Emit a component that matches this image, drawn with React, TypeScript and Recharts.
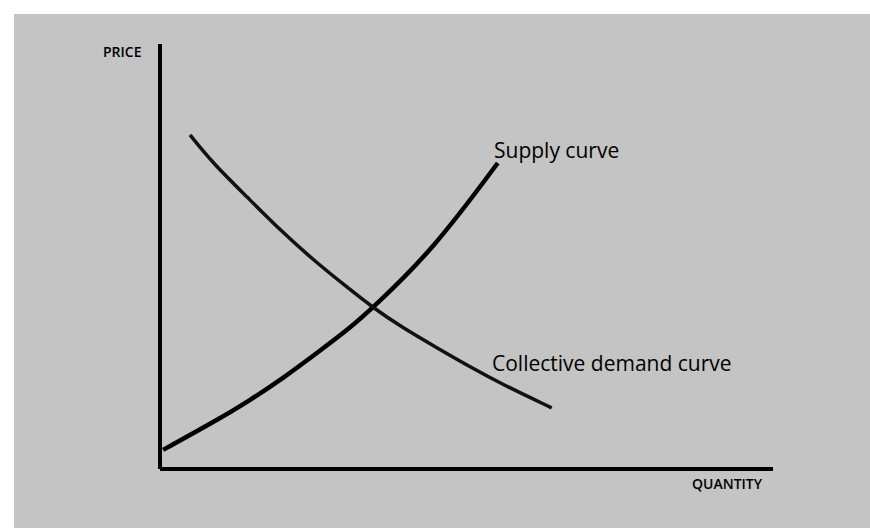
import React from 'react';
import { LineChart, Line, XAxis, YAxis, ReferenceLine } from 'recharts';

// Supply curve (quantity, price) in arbitrary units
const supplyQ = [0.5, 9.3, 14.7, 20.1, 25.6, 31.0, 34.7, 44.5, 55.1];
const supplyP = [4.5, 11.5, 16.2, 21.4, 27.3, 33.2, 37.9, 51.5, 72.0];
// Collective demand curve
const demandQ = [4.9, 8.6, 14.2, 19.6, 25.0, 30.5, 34.7, 39.6, 45.2, 50.6, 56.0, 63.9];
const demandP = [78.6, 72.0, 64.0, 56.2, 49.2, 42.8, 38.0, 33.2, 28.5, 24.0, 19.8, 14.4];

const axisTitles = { y: 'PRICE', x: 'QUANTITY' };
const curveLabels = { supply: 'Supply curve', demand: 'Collective demand curve' };

const supplyData = supplyQ.map((q, i) => ({ q, p: supplyP[i] }));
const demandData = demandQ.map((q, i) => ({ q, p: demandP[i] }));

const W = 870;
const H = 528;
const font = '"Open Sans", "Noto Sans", sans-serif';

export default function App() {
  return (
    <div style={{ position: 'absolute', left: 0, top: 0, width: W, height: H, background: '#ffffff', overflow: 'hidden' }}>
      <div style={{ position: 'absolute', left: 14, top: 14, width: W - 14, height: H - 14, background: '#c4c4c4' }} />
      <div style={{ position: 'absolute', left: 0, top: 0 }}>
        <LineChart width={W} height={H} margin={{ top: 44, right: 97, bottom: 59, left: 160 }}>
          <XAxis
            type="number"
            dataKey="q"
            domain={[0, 100]}
            allowDataOverflow
            tick={false}
            tickLine={false}
            axisLine={false}
            height={0}
          />
          <YAxis
            type="number"
            dataKey="p"
            domain={[0, 100]}
            allowDataOverflow
            tick={false}
            tickLine={false}
            axisLine={false}
            width={0}
          />
          <ReferenceLine x={0} stroke="#000" strokeWidth={4} ifOverflow="visible" />
          <ReferenceLine y={0} stroke="#000" strokeWidth={4} ifOverflow="visible" />
          <Line data={supplyData} dataKey="p" type="basis" stroke="#000" strokeWidth={4.5} dot={false} isAnimationActive={false} />
          <Line data={demandData} dataKey="p" type="basis" stroke="#111" strokeWidth={3.5} dot={false} isAnimationActive={false} />
        </LineChart>
      </div>
      <div style={{ position: 'absolute', left: 103, top: 45, fontFamily: font, fontSize: 14, fontWeight: 600, color: '#000', lineHeight: 1 }}>{axisTitles.y}</div>
      <div style={{ position: 'absolute', left: 692, top: 477, fontFamily: font, fontSize: 14, fontWeight: 600, color: '#000', lineHeight: 1 }}>{axisTitles.x}</div>
      <div style={{ position: 'absolute', left: 494, top: 140, fontFamily: font, fontSize: 21, fontWeight: 500, color: '#000', lineHeight: 1 }}>{curveLabels.supply}</div>
      <div style={{ position: 'absolute', left: 492, top: 353, fontFamily: font, fontSize: 21, fontWeight: 500, color: '#000', lineHeight: 1 }}>{curveLabels.demand}</div>
    </div>
  );
}
